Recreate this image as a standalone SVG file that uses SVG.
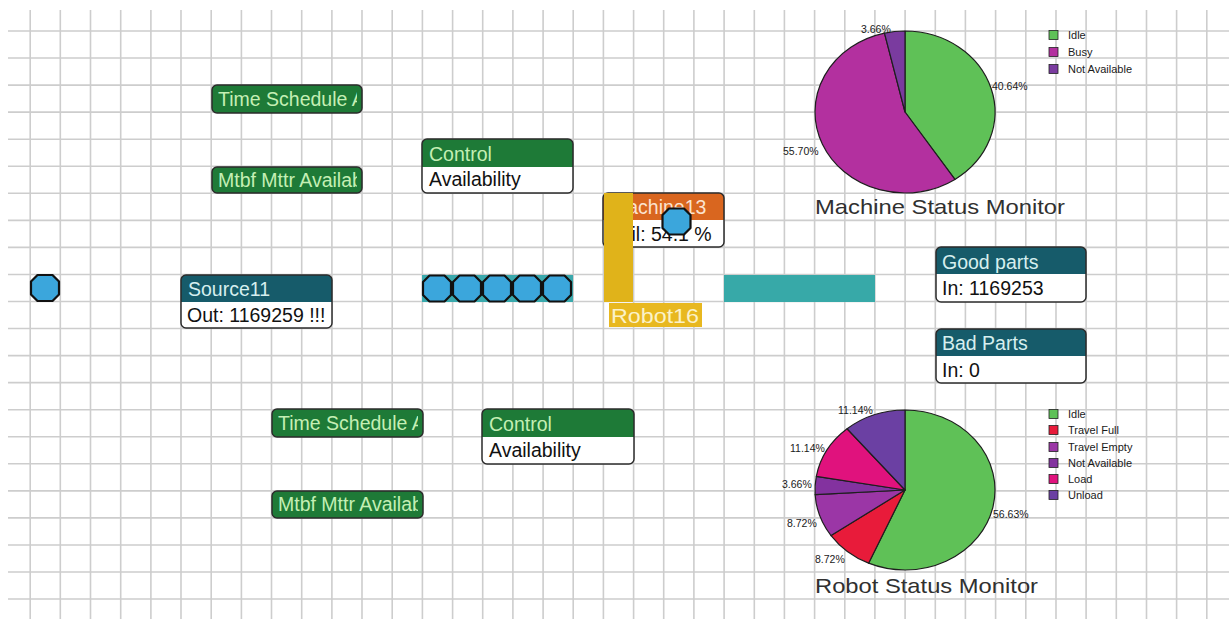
<svg xmlns="http://www.w3.org/2000/svg" width="1229" height="619" viewBox="0 0 1229 619">
  <style>
    .grid { stroke: #cdcdcd; stroke-width: 1.6; fill: none; }
    .box { fill: #ffffff; }
    .outline { fill: none; stroke: #2b2b2b; stroke-width: 1.5; }
    .green { fill: #1e7a37; }
    .teal { fill: #165b6a; }
    .orange { fill: #d9661f; }
    .lbl { font-family: "Liberation Sans", Arial, sans-serif; font-size: 19.5px; }
    .lbl-green { fill: #c4efb4; }
    .lbl-teal { fill: #d6efef; }
    .lbl-orange { fill: #fbe3cf; }
    .lbl-body { fill: #111111; }
    .part { fill: #3ba6dc; stroke: #111111; stroke-width: 2.2; stroke-linejoin: round; }
    .slice { stroke: #1e1e1e; stroke-width: 1.2; stroke-linejoin: round; }
    .pct { font-family: "Liberation Sans", Arial, sans-serif; font-size: 10.5px; fill: #1a1a1a; }
    .leg { font-family: "Liberation Sans", Arial, sans-serif; font-size: 11px; fill: #1a1a1a; }
    .legsq { stroke: #222222; stroke-width: 0.8; }
    .title { font-family: "Liberation Sans", Arial, sans-serif; font-size: 21px; fill: #303030; }
  </style>
  <defs>
    <polygon id="part" points="-14,-6.5 -7.5,-13 7.5,-13 14,-6.5 14,6.5 7.5,13 -7.5,13 -14,6.5"/>
    <clipPath id="clip-ts1"><rect x="212" y="85" width="145" height="28"/></clipPath>
    <clipPath id="clip-mt1"><rect x="212" y="167" width="145" height="26"/></clipPath>
    <clipPath id="clip-ts2"><rect x="272" y="409" width="146" height="28"/></clipPath>
    <clipPath id="clip-mt2"><rect x="272" y="491" width="146" height="27"/></clipPath>
  </defs>

  <rect width="1229" height="619" fill="#ffffff"/>

  <!-- background grid -->
  <path class="grid" d="M30.2,10V619 M60.3,10V619 M90.5,10V619 M120.7,10V619 M150.9,10V619 M181,10V619 M211.2,10V619 M241.4,10V619 M271.5,10V619 M301.7,10V619 M331.9,10V619 M362,10V619 M392.2,10V619 M422.4,10V619 M452.6,10V619 M482.7,10V619 M512.9,10V619 M543.1,10V619 M573.2,10V619 M603.4,10V619 M633.6,10V619 M663.7,10V619 M693.9,10V619 M724.1,10V619 M754.3,10V619 M784.4,10V619 M814.6,10V619 M844.8,10V619 M874.9,10V619 M905.1,10V619 M935.3,10V619 M965.4,10V619 M995.6,10V619 M1025.8,10V619 M1056,10V619 M1086.1,10V619 M1116.3,10V619 M1146.5,10V619 M1176.6,10V619 M1206.8,10V619
    M8,31H1229 M8,58.05H1229 M8,85.1H1229 M8,112.15H1229 M8,139.2H1229 M8,166.25H1229 M8,193.3H1229 M8,220.35H1229 M8,247.4H1229 M8,274.45H1229 M8,301.5H1229 M8,328.55H1229 M8,355.6H1229 M8,382.65H1229 M8,409.7H1229 M8,436.75H1229 M8,463.8H1229 M8,490.85H1229 M8,517.9H1229 M8,544.95H1229 M8,572H1229 M8,599.05H1229"/>

  <g id="connectors"/>

  <!-- upper schedule / failure blocks -->
  <g id="time-schedule-1">
    <rect class="green" x="212" y="85" width="150" height="28" rx="5"/>
    <rect class="outline" x="212" y="85" width="150" height="28" rx="5"/>
    <text class="lbl lbl-green" x="218" y="106" clip-path="url(#clip-ts1)">Time Schedule A</text>
  </g>
  <g id="mtbf-mttr-1">
    <rect class="green" x="212" y="167" width="150" height="26" rx="5"/>
    <rect class="outline" x="212" y="167" width="150" height="26" rx="5"/>
    <text class="lbl lbl-green" x="218" y="187" clip-path="url(#clip-mt1)">Mtbf Mttr Availab</text>
  </g>
  <g id="control-1">
    <rect class="box" x="422" y="139" width="151" height="54" rx="5"/>
    <path class="green" d="M422,167V144a5,5 0 0 1 5,-5H568a5,5 0 0 1 5,5V167Z"/>
    <rect class="outline" x="422" y="139" width="151" height="54" rx="5"/>
    <text class="lbl lbl-green" x="429" y="161">Control</text>
    <text class="lbl lbl-body" x="429" y="186">Availability</text>
  </g>

  <!-- lower schedule / failure blocks -->
  <g id="time-schedule-2">
    <rect class="green" x="272" y="409" width="151" height="28" rx="5"/>
    <rect class="outline" x="272" y="409" width="151" height="28" rx="5"/>
    <text class="lbl lbl-green" x="278" y="430" clip-path="url(#clip-ts2)">Time Schedule A</text>
  </g>
  <g id="mtbf-mttr-2">
    <rect class="green" x="272" y="491" width="151" height="27" rx="5"/>
    <rect class="outline" x="272" y="491" width="151" height="27" rx="5"/>
    <text class="lbl lbl-green" x="278" y="511" clip-path="url(#clip-mt2)">Mtbf Mttr Availab</text>
  </g>
  <g id="control-2">
    <rect class="box" x="482" y="409" width="152" height="55" rx="5"/>
    <path class="green" d="M482,437V414a5,5 0 0 1 5,-5H629a5,5 0 0 1 5,5V437Z"/>
    <rect class="outline" x="482" y="409" width="152" height="55" rx="5"/>
    <text class="lbl lbl-green" x="489" y="431">Control</text>
    <text class="lbl lbl-body" x="489" y="457">Availability</text>
  </g>

  <!-- incoming part -->
  <g id="part-in">
    <use href="#part" class="part" transform="translate(45,288)"/>
  </g>

  <g id="source11">
    <rect class="box" x="181" y="275" width="151" height="53" rx="5"/>
    <path class="teal" d="M181,302V280a5,5 0 0 1 5,-5H327a5,5 0 0 1 5,5V302Z"/>
    <rect class="outline" x="181" y="275" width="151" height="53" rx="5"/>
    <text class="lbl lbl-teal" x="188" y="296">Source11</text>
    <text class="lbl lbl-body" x="187" y="322">Out: 1169259 !!!</text>
  </g>

  <g id="buffer">
    <rect x="422" y="275" width="151" height="27" fill="#3aa9ad"/>
    <use href="#part" class="part" transform="translate(437,288.5)"/>
    <use href="#part" class="part" transform="translate(467,288.5)"/>
    <use href="#part" class="part" transform="translate(497,288.5)"/>
    <use href="#part" class="part" transform="translate(527,288.5)"/>
    <use href="#part" class="part" transform="translate(557,288.5)"/>
  </g>

  <g id="machine13">
    <rect class="box" x="603" y="193" width="121" height="54" rx="5"/>
    <path class="orange" d="M603,220V198a5,5 0 0 1 5,-5H719a5,5 0 0 1 5,5V220Z"/>
    <rect class="outline" x="603" y="193" width="121" height="54" rx="5"/>
    <text class="lbl lbl-orange" x="611" y="214">Machine13</text>
    <text class="lbl lbl-body" x="612" y="241">Util: 54.1 %</text>
  </g>

  <g id="robot16">
    <rect x="604" y="193" width="29" height="109" fill="#e0b31a"/>
    <rect x="609" y="303" width="93" height="24" fill="#e8b820"/>
    <text class="lbl" x="611" y="323" fill="#fbf2c8" textLength="88" lengthAdjust="spacingAndGlyphs">Robot16</text>
  </g>

  <g id="part-in-machine">
    <use href="#part" class="part" transform="translate(676.5,221.5)"/>
  </g>

  <g id="conveyor">
    <rect x="724" y="275" width="151" height="27" fill="#37a9a8"/>
  </g>

  <g id="good-parts">
    <rect class="box" x="936" y="247" width="150" height="55" rx="5"/>
    <path class="teal" d="M936,274V252a5,5 0 0 1 5,-5H1081a5,5 0 0 1 5,5V274Z"/>
    <rect class="outline" x="936" y="247" width="150" height="55" rx="5"/>
    <text class="lbl lbl-teal" x="942" y="269">Good parts</text>
    <text class="lbl lbl-body" x="942" y="295">In: 1169253</text>
  </g>

  <g id="bad-parts">
    <rect class="box" x="936" y="329" width="150" height="54" rx="5"/>
    <path class="teal" d="M936,356V334a5,5 0 0 1 5,-5H1081a5,5 0 0 1 5,5V356Z"/>
    <rect class="outline" x="936" y="329" width="150" height="54" rx="5"/>
    <text class="lbl lbl-teal" x="942" y="350">Bad Parts</text>
    <text class="lbl lbl-body" x="942" y="377">In: 0</text>
  </g>

  <!-- machine status pie chart -->
  <g id="machine-status-monitor">
    <path class="slice" fill="#5fc157" d="M905,112L905,31A90,81 0 0 1 954.93,179.39Z"/>
    <path class="slice" fill="#b3309f" d="M905,112L954.93,179.39A90,81 0 1 1 884.48,33.13Z"/>
    <path class="slice" fill="#7a3b9f" d="M905,112L884.48,33.13A90,81 0 0 1 905,31Z"/>
    <text class="pct" x="861" y="33">3.66%</text>
    <text class="pct" x="992" y="90">40.64%</text>
    <text class="pct" x="783" y="155">55.70%</text>
    <rect class="legsq" x="1049" y="30.5" width="9" height="9" fill="#5fc157"/>
    <rect class="legsq" x="1049" y="47.5" width="9" height="9" fill="#b3309f"/>
    <rect class="legsq" x="1049" y="64.5" width="9" height="9" fill="#7a3b9f"/>
    <text class="leg" x="1068" y="39">Idle</text>
    <text class="leg" x="1068" y="56">Busy</text>
    <text class="leg" x="1068" y="73">Not Available</text>
    <text class="title" x="815" y="214" textLength="250" lengthAdjust="spacingAndGlyphs">Machine Status Monitor</text>
  </g>

  <!-- robot status pie chart -->
  <g id="robot-status-monitor">
    <path class="slice" fill="#5fc157" d="M905,490L905,410A90,80 0 1 1 868.58,563.16Z"/>
    <path class="slice" fill="#e81b3a" d="M905,490L868.58,563.16A90,80 0 0 1 831.05,535.59Z"/>
    <path class="slice" fill="#9b36a6" d="M905,490L831.05,535.59A90,80 0 0 1 815.15,494.67Z"/>
    <path class="slice" fill="#83329f" d="M905,490L815.15,494.67A90,80 0 0 1 816.32,476.34Z"/>
    <path class="slice" fill="#e0127d" d="M905,490L816.32,476.34A90,80 0 0 1 847.07,428.78Z"/>
    <path class="slice" fill="#6b40a3" d="M905,490L847.07,428.78A90,80 0 0 1 905,410Z"/>
    <text class="pct" x="838" y="414">11.14%</text>
    <text class="pct" x="790" y="452">11.14%</text>
    <text class="pct" x="782" y="488">3.66%</text>
    <text class="pct" x="787" y="527">8.72%</text>
    <text class="pct" x="815" y="563">8.72%</text>
    <text class="pct" x="993" y="518">56.63%</text>
    <rect class="legsq" x="1049" y="409.5" width="9" height="9" fill="#5fc157"/>
    <rect class="legsq" x="1049" y="425.5" width="9" height="9" fill="#e81b3a"/>
    <rect class="legsq" x="1049" y="442.5" width="9" height="9" fill="#9b36a6"/>
    <rect class="legsq" x="1049" y="458.5" width="9" height="9" fill="#83329f"/>
    <rect class="legsq" x="1049" y="474.5" width="9" height="9" fill="#e0127d"/>
    <rect class="legsq" x="1049" y="490.5" width="9" height="9" fill="#6b40a3"/>
    <text class="leg" x="1068" y="418">Idle</text>
    <text class="leg" x="1068" y="434">Travel Full</text>
    <text class="leg" x="1068" y="451">Travel Empty</text>
    <text class="leg" x="1068" y="467">Not Available</text>
    <text class="leg" x="1068" y="483">Load</text>
    <text class="leg" x="1068" y="499">Unload</text>
    <text class="title" x="815" y="593" textLength="223" lengthAdjust="spacingAndGlyphs">Robot Status Monitor</text>
  </g>
</svg>
